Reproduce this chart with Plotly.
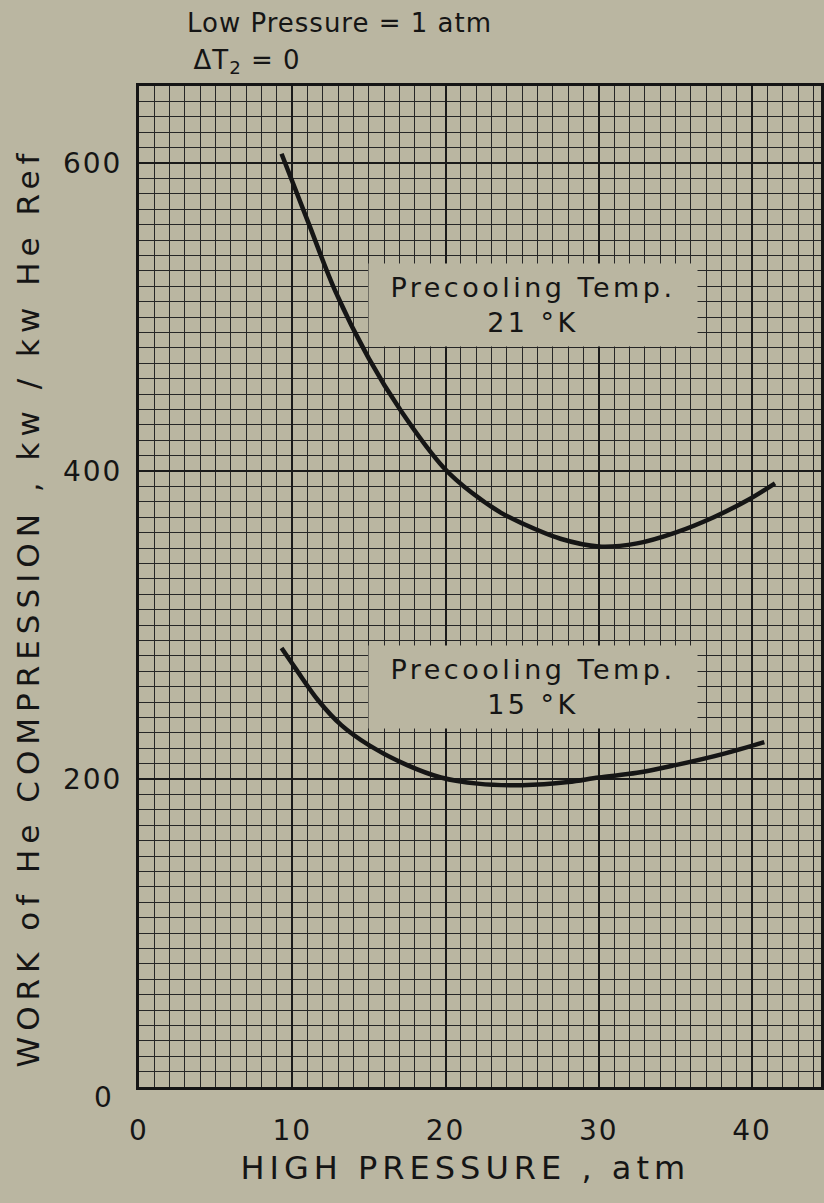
import plotly.graph_objects as go

# ---- data ----
upper_x = [9.3, 11.1, 12.8, 15.0, 17.1, 19.9, 21.7, 23.6, 25.0, 27.5, 30.0, 32.5, 35.0, 37.5, 39.7, 41.5]
upper_y = [606, 560, 517, 473, 439, 402, 386, 373, 366, 356, 351, 353, 360, 370, 381, 392]
lower_x = [9.3, 10.2, 11.7, 13.2, 15.0, 17.5, 19.7, 22.1, 25.0, 28.0, 30.0, 32.5, 35.0, 38.0, 40.8]
lower_y = [285, 272, 251, 235, 222, 209, 201, 197, 196, 198, 201, 204, 209, 216, 224]

x_label_vals = [0, 10, 20, 30, 40]
x_label_text = ["0", "10", "20", "30", "40"]
x_major_extra = [5, 15, 25, 35]
y_label_vals = [200, 400, 600]
y_label_text = ["200", "400", "600"]
y_major_extra = [0, 50, 100, 150, 250, 300, 350, 450, 500, 550, 650]

BG = "#bab6a1"
INK = "#151515"
FONT = "DejaVu Sans"

W, H = 824, 1203
ML, MR, MT, MB = 139, 0, 86, 116
PW, PH = W - ML - MR, H - MT - MB


def px_x(p):
    return (p - ML) / PW


def px_y(p):
    return (H - MB - p) / PH


fig = go.Figure()
fig.add_trace(go.Scatter(x=upper_x, y=upper_y, mode="lines",
                         line=dict(color=INK, width=4.5, shape="spline", smoothing=1.0),
                         showlegend=False, hoverinfo="skip"))
fig.add_trace(go.Scatter(x=lower_x, y=lower_y, mode="lines",
                         line=dict(color=INK, width=4.5, shape="spline", smoothing=1.0),
                         showlegend=False, hoverinfo="skip"))

GRID_MAJ = dict(gridcolor="#1a1a1a", gridwidth=2.2)
GRID_MIN = dict(gridcolor="#262626", gridwidth=1.2)

fig.update_layout(
    xaxis=dict(range=[0, 44.5], tickmode="array", tickvals=x_label_vals, ticktext=x_label_text,
               showline=True, linecolor=INK, linewidth=3, mirror=True, zeroline=False,
               ticks="", ticklabelstandoff=16, showgrid=True, **GRID_MAJ,
               tickfont=dict(family=FONT, size=28, color=INK),
               minor=dict(tickmode="linear", tick0=0, dtick=1, showgrid=True, **GRID_MIN)),
    yaxis=dict(range=[0, 650], tickmode="array", tickvals=y_label_vals, ticktext=y_label_text,
               showline=True, linecolor=INK, linewidth=3, mirror=True, zeroline=False,
               ticks="", ticklabelstandoff=8, showgrid=True, **GRID_MAJ,
               tickfont=dict(family=FONT, size=28, color=INK),
               minor=dict(tickmode="linear", tick0=0, dtick=10, showgrid=True, **GRID_MIN)),
    xaxis2=dict(overlaying="x", matches="x", tickmode="array", tickvals=x_major_extra,
                showticklabels=False, ticks="", showgrid=True, **GRID_MAJ,
                zeroline=False, showline=False, layer="below traces"),
    yaxis2=dict(overlaying="y", matches="y", tickmode="array", tickvals=y_major_extra,
                showticklabels=False, ticks="", showgrid=True, **GRID_MAJ,
                zeroline=False, showline=False, layer="below traces"),
)

ann = []
# 0,1: label boxes
for cy, txt in [(508, "Precooling Temp.<br>21 °K"), (260, "Precooling Temp.<br>15 °K")]:
    ann.append(dict(x=25.7, y=cy, xref="x", yref="y", text=txt, showarrow=False,
                    font=dict(family=FONT, size=27, color=INK), bgcolor=BG,
                    width=326, height=80, borderpad=1, align="center"))
# 2,3: top notes
ann.append(dict(x=px_x(195), y=px_y(23), xref="paper", yref="paper", xanchor="left",
                yanchor="middle", text="Low Pressure = 1 atm", showarrow=False,
                font=dict(family=FONT, size=26, color=INK)))
ann.append(dict(x=px_x(195), y=px_y(62), xref="paper", yref="paper", xanchor="left",
                yanchor="middle", text="ΔT<sub>2</sub> = 0", showarrow=False,
                font=dict(family=FONT, size=26, color=INK)))
# 4,5: axis titles
ann.append(dict(x=px_x(28), y=px_y(607), xref="paper", yref="paper", xanchor="center",
                yanchor="middle", textangle=-90,
                text="WORK of He COMPRESSION , kw / kw He Ref", showarrow=False,
                font=dict(family=FONT, size=31, color=INK)))
ann.append(dict(x=px_x(467), y=px_y(1168), xref="paper", yref="paper", xanchor="center",
                yanchor="middle", text="HIGH PRESSURE , atm", showarrow=False,
                font=dict(family=FONT, size=32, color=INK)))
# 6: y zero label (sits a little lower-left in the reference)
ann.append(dict(x=px_x(103), y=0, xref="paper", yref="y", xanchor="center",
                yanchor="middle", yshift=-10, text="0", showarrow=False,
                font=dict(family=FONT, size=28, color=INK)))

fig.update_layout(width=W, height=H, margin=dict(l=ML, r=MR, t=MT, b=MB),
                  paper_bgcolor=BG, plot_bgcolor=BG, annotations=ann,
                  font=dict(family=FONT, color=INK))

post = """
document.body.style.margin = '0';
document.body.style.background = '%s';
var gd = document.getElementById('{plot_id}');
var sp = {0: '3.5px', 1: '3.5px', 2: '1px', 3: '1px', 4: '6px', 5: '5px', 6: '0px'};
gd.querySelectorAll('g.annotation').forEach(function(a) {
  var i = a.getAttribute('data-index');
  if (sp[i] !== undefined) {
    a.querySelectorAll('text').forEach(function(t) { t.style.letterSpacing = sp[i]; });
  }
});
gd.querySelectorAll('g.xtick text, g.ytick text').forEach(function(t) {
  t.style.letterSpacing = '2px';
});
""" % BG

fig.write_html("out.html", post_script=post, config={"displayModeBar": False})
